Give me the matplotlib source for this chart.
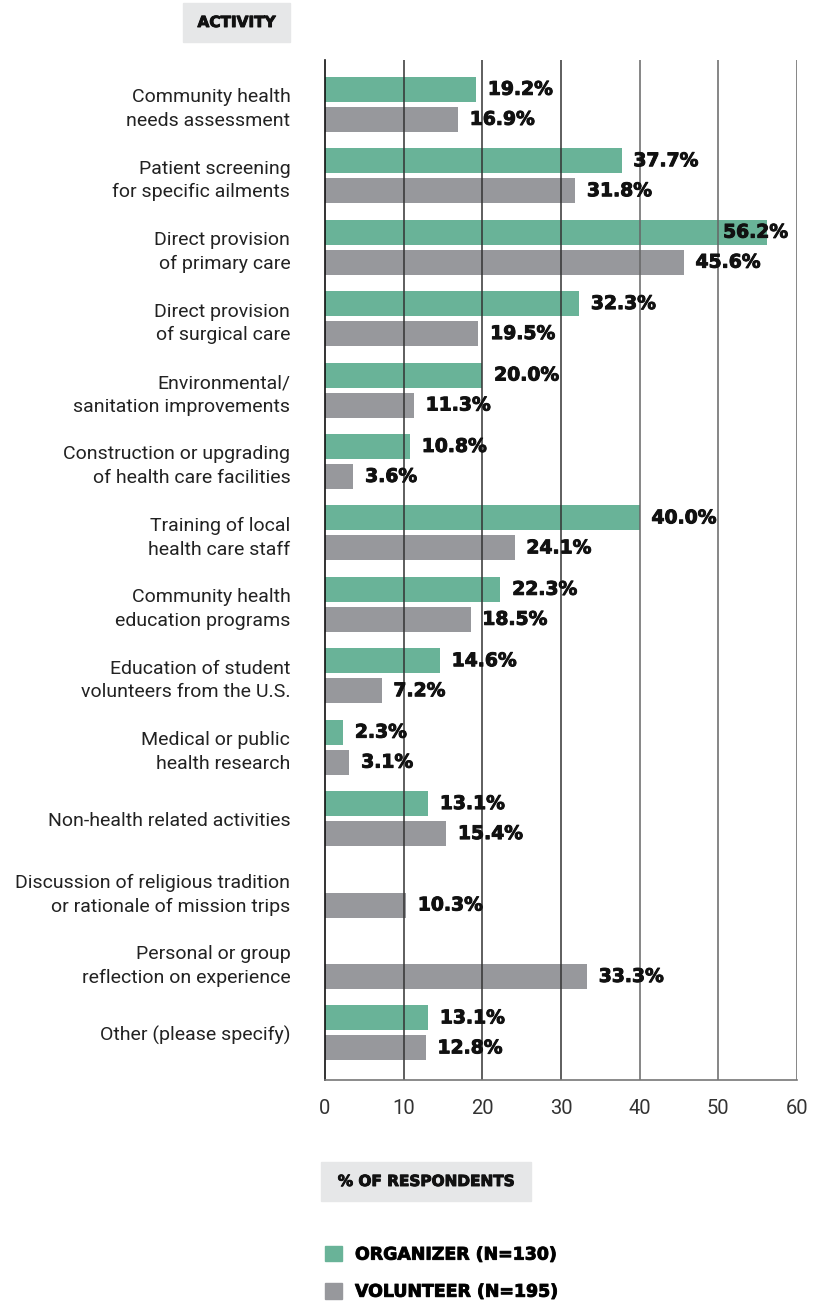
import numpy as np
import matplotlib.pyplot as plt
import matplotlib.patheffects as pe
from matplotlib.patches import Patch, Rectangle

# survey answers, share of respondents (%)
activities = ["Community health\nneeds assessment",
              "Patient screening\nfor specific ailments",
              "Direct provision\nof primary care",
              "Direct provision\nof surgical care",
              "Environmental/\nsanitation improvements",
              "Construction or upgrading\nof health care facilities",
              "Training of local\nhealth care staff",
              "Community health\neducation programs",
              "Education of student\nvolunteers from the U.S.",
              "Medical or public\nhealth research",
              "Non-health related activities",
              "Discussion of religious tradition\nor rationale of mission trips",
              "Personal or group\nreflection on experience",
              "Other (please specify)"]
organizer = [19.2, 37.7, 56.2, 32.3, 20.0, 10.8, 40.0, 22.3, 14.6, 2.3, 13.1, None, None, 13.1]
volunteer = [16.9, 31.8, 45.6, 19.5, 11.3, 3.6, 24.1, 18.5, 7.2, 3.1, 15.4, 10.3, 33.3, 12.8]
xticks = [0, 10, 20, 30, 40, 50, 60]

GREEN = "#69b398"
GRAY = "#97989c"
REG = "Roboto"
BOLD = "DejaVu Sans"
# thin outline to make the bold face look heavier
heavy = [pe.withStroke(linewidth=0.7, foreground="#111111")]

fig = plt.figure(figsize=(8.2, 13.05), dpi=100)
ax = fig.add_axes([325/820, 225/1305, 472/820, 1020/1305])

y = np.arange(len(activities))
h = 0.35
off = 0.21

def value_label(x, yy):
    ax.text(min(x + 1.5, 50.6), yy, f"{x:.1f}%", va="center", ha="left",
            fontsize=13.5, fontweight="bold", family=BOLD, color="#111111",
            zorder=3, path_effects=heavy)

for i in range(len(activities)):
    if organizer[i] is not None:
        ax.barh(y[i] - off, organizer[i], height=h, color=GREEN, zorder=1)
        value_label(organizer[i], y[i] - off)
    if volunteer[i] is not None:
        ax.barh(y[i] + off, volunteer[i], height=h, color=GRAY, zorder=1)
        value_label(volunteer[i], y[i] + off)

ax.set_xlim(0, 60)
ax.set_ylim(len(activities) - 1 + 0.66, -0.62)

# vertical grid lines drawn over the bars
for x in xticks[1:]:
    ax.axvline(x, color="#333333" if x < 40 else "#666666", lw=1.1, zorder=2)

for s in ["top", "right"]:
    ax.spines[s].set_visible(False)
ax.spines["left"].set_color("#111111")
ax.spines["left"].set_linewidth(1.2)
ax.spines["bottom"].set_color("#777777")
ax.spines["bottom"].set_linewidth(1.2)

ax.set_xticks(xticks)
ax.set_xticklabels([str(t) for t in xticks], fontsize=14.5, family=REG, color="#333333")
ax.tick_params(axis="x", length=0, pad=14)
ax.set_yticks(y)
ax.set_yticklabels(activities, fontsize=14, family=REG, color="#222222",
                   linespacing=1.4)
ax.tick_params(axis="y", length=0, pad=25)

# header boxes
fig.patches.append(Rectangle((183/820, 1 - 42/1305), 107/820, 39/1305,
                             transform=fig.transFigure, color="#e6e7e8", zorder=0))
fig.text(236.5/820, 1 - 22.5/1305, "ACTIVITY", ha="center", va="center",
         fontsize=11, fontweight="bold", family=BOLD, color="#111111", path_effects=heavy)
fig.patches.append(Rectangle((321/820, 1 - 1201/1305), 210/820, 39/1305,
                             transform=fig.transFigure, color="#e6e7e8", zorder=0))
fig.text(426/820, 1 - 1181.5/1305, "% OF RESPONDENTS", ha="center", va="center",
         fontsize=11, fontweight="bold", family=BOLD, color="#111111", path_effects=heavy)

handles = [Patch(color=GREEN, label="ORGANIZER (N=130)"),
           Patch(color=GRAY, label="VOLUNTEER (N=195)")]
leg = fig.legend(handles=handles, loc="upper left", bbox_to_anchor=(309/820, 1 - 1230/1305),
                 frameon=False, handlelength=1.0, handleheight=1.0, handletextpad=0.75,
                 labelspacing=1.1, prop={"family": BOLD, "weight": "bold", "size": 12.5})
for t in leg.get_texts():
    t.set_path_effects(heavy)

fig.savefig("out.png", dpi=100)
